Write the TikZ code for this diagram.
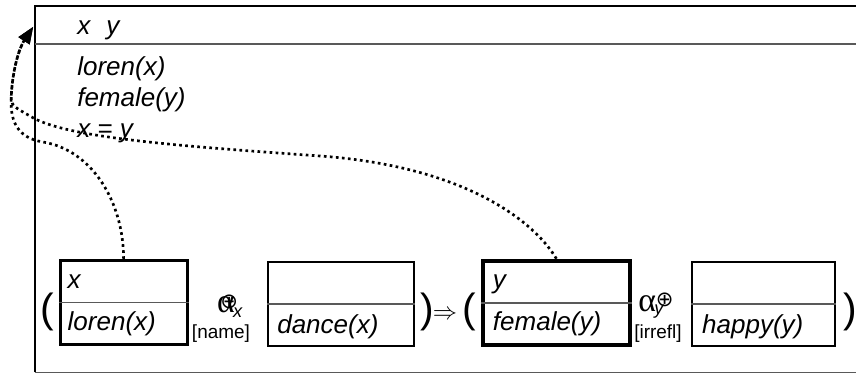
\documentclass[tikz,border=0pt]{standalone}
\usepackage{amsmath}
\usepackage{amssymb}
\usepackage{fontspec}
\setmainfont{Liberation Sans}
\newfontfamily\greekfont{Liberation Serif}
\newfontfamily\symbfont{DejaVu Sans}
\usepackage{tikz}
\usetikzlibrary{arrows.meta, positioning}

\begin{document}
\begin{tikzpicture}[
    drsbox/.style={draw, rectangle, minimum height=2.1cm, inner sep=0pt},
    field/.style={inner sep=0pt, anchor=base west, font=\fontsize{18.5}{22}\selectfont\itshape},
    paren/.style={inner sep=0pt, font=\fontsize{29}{32}\selectfont},
    relop/.style={inner sep=0pt, anchor=base west, font=\fontsize{24}{26}\selectfont},
    relname/.style={inner sep=0pt, font=\fontsize{13.5}{15}\selectfont},
    divider/.style={draw=black!65, line width=0.9pt},
    link/.style={line width=1.9pt, dash pattern=on 1.9pt off 2.4pt, -{Triangle[length=0.42cm, width=0.32cm]}}
  ]
    \useasboundingbox (0,0) rectangle (21.4,9.35);

    % Outer DRS
    \draw[line width=2pt] (0.875,0.04) -- (0.875,9.2) -- (21.4,9.2);
    \draw[divider] (0.875,8.25) -- (21.4,8.25);
    \draw[draw=black!65, line width=0.7pt] (0.875,0.04) -- (21.4,0.04);
    \coordinate (drsleft) at (0.83,8.68);

    \node[field] (univ) at (1.925,8.475) {x\hspace{0.4cm}y};
    \node[field] (cloren) at (1.925,7.45) {loren(x)};
    \node[field] (cfemale) at (1.925,6.675) {female(y)};
    \node[field] (ceq) at (1.925,5.9) {x = y};

    % Boxes
    \node[drsbox, line width=2.1pt, minimum width=3.175cm] (loren) at (3.09,1.79) {};
    \node[drsbox, line width=1.4pt, minimum width=3.65cm] (dance) at (8.525,1.75) {};
    \node[drsbox, line width=3.2pt, minimum width=3.675cm] (female) at (13.91,1.775) {};
    \node[drsbox, line width=1.4pt, minimum width=3.575cm] (happy) at (19.09,1.75) {};

    \draw[divider] (loren.west) -- (loren.east);
    \draw[divider] (dance.west) -- (dance.east);
    \draw[divider] (female.west) -- (female.east);
    \draw[divider] (happy.west) -- (happy.east);

    \node[field] (lorenref) at ([shift={(0.22,-0.75)}]loren.north west) {x};
    \node[field] (lorencond) at ([shift={(0.22,-1.8)}]loren.north west) {loren(x)};
    \node[field] (dancecond) at ([shift={(0.25,-1.8)}]dance.north west) {dance(x)};
    \node[field] (femaleref) at ([shift={(0.3,-0.75)}]female.north west) {y};
    \node[field] (femalecond) at ([shift={(0.3,-1.8)}]female.north west) {female(y)};
    \node[field] (happycond) at ([shift={(0.27,-1.8)}]happy.north west) {happy(y)};

    % Operators and brackets
    \node[paren] (open1) at (1.175,1.55) {(};
    \node[paren] (close1) at (10.675,1.55) {)};
    \node[paren, font=\fontsize{17}{18}\selectfont] (implies) at (11.125,1.475) {$\Rightarrow$};
    \node[paren] (open2) at (11.725,1.55) {(};
    \node[paren] (close2) at (21.25,1.55) {)};

    \node[relop] (op1) at (5.42,1.55) {{\greekfont α}\hspace{-0.36cm}\raisebox{0.08cm}{\symbfont\fontsize{15}{15}\selectfont ⊕}\hspace{-0.12cm}\raisebox{-0.13cm}{\itshape\fontsize{13}{13}\selectfont x}};
    \node[relname] (op1name) at (5.525,1.02) {[name]};
    \node[relop] (op2) at (15.95,1.57) {{\greekfont α}\raisebox{0.11cm}{\symbfont\fontsize{15}{15}\selectfont ⊕}\hspace{-0.48cm}\raisebox{-0.08cm}{\itshape\fontsize{13}{13}\selectfont y}};
    \node[relname] (op2name) at (16.45,1.0) {[irrefl]};

    % Links
    \draw[link] (loren.north) .. controls (3.09,4.3) and (2.3,5.6) .. (1.075,5.8)
        .. controls (0.45,5.9) and (0.25,6.3) .. (0.28,6.9)
        .. controls (0.3,7.5) and (0.45,8.1) .. (drsleft);
    \draw[link] (female.north) .. controls (13.3,3.9) and (11.5,5.2) .. (8,5.45)
        .. controls (4.5,5.7) and (1.6,5.9) .. (0.75,6.45)
        .. controls (0.4,6.65) and (0.28,6.7) .. (0.28,6.9)
        .. controls (0.3,7.5) and (0.45,8.1) .. (drsleft);

\end{tikzpicture}
\end{document}
